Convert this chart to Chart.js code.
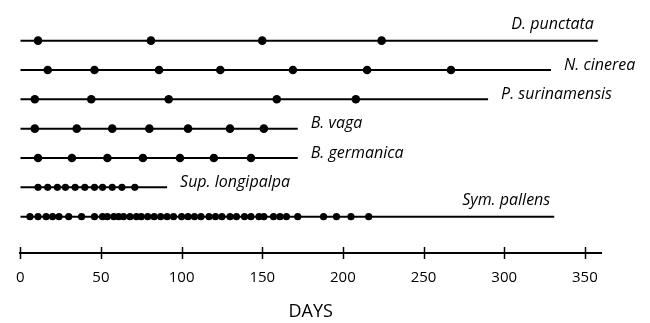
<!DOCTYPE html>
<html>
<head>
<meta charset="utf-8">
<script src="https://cdn.jsdelivr.net/npm/chart.js@4.4.0/dist/chart.umd.min.js"></script>
<style>
  html, body { margin: 0; padding: 0; background: #fff; }
</style>
</head>
<body>
<canvas id="chart" width="650" height="323"></canvas>
<script>
// species, listed from the top row down
var species = ['D. punctata', 'N. cinerea', 'P. surinamensis', 'B. vaga', 'B. germanica', 'Sup. longipalpa', 'Sym. pallens'];

// days on which each species was recorded
var daysPunctata = [11, 81, 150, 224];
var daysCinerea = [17, 46, 86, 124, 169, 215, 267];
var daysSurinamensis = [9, 44, 92, 159, 208];
var daysVaga = [9, 35, 57, 80, 104, 130, 151];
var daysGermanica = [11, 32, 54, 76, 99, 120, 143];
var daysLongipalpa = [11, 17, 23, 28, 34, 40, 46, 51, 57, 63, 71];
var daysPallens = [6, 11, 16, 20, 24, 30, 38, 46, 51, 54, 58, 61, 64, 68, 72, 75, 79, 83, 87, 91,
  95, 100, 104, 108, 112, 117, 121, 125, 130, 134, 139, 143, 148, 151, 157, 161, 165, 172, 188, 196, 205, 216];

var allDays = [daysPunctata, daysCinerea, daysSurinamensis, daysVaga, daysGermanica, daysLongipalpa, daysPallens];

// how far each observation line runs (days)
var lineEnds = [358, 329, 290, 172, 172, 91, 331];

var xTicks = [0, 50, 100, 150, 200, 250, 300, 350];

// names that sit above the end of their line instead of after it
var namesAbove = ['D. punctata', 'Sym. pallens'];

var datasets = [];
species.forEach(function (name, i) {
  var row = species.length - i;
  datasets.push({
    label: name + ' line',
    data: [{ x: 0, y: row }, { x: lineEnds[i], y: row }],
    showLine: true,
    borderColor: '#000',
    borderWidth: 2,
    pointRadius: 0,
    order: 1
  });
  datasets.push({
    label: name,
    data: allDays[i].map(function (d) { return { x: d, y: row }; }),
    showLine: false,
    backgroundColor: '#000',
    borderWidth: 0,
    pointRadius: i >= 5 ? 3.6 : 4.3,
    order: 0
  });
});

// tick marks across the axis line, plus the species names
var axisMarks = {
  id: 'axisMarks',
  afterDraw: function (chart) {
    var ctx = chart.ctx;
    var x = chart.scales.x, y = chart.scales.y;
    var base = chart.chartArea.bottom;
    ctx.save();
    ctx.strokeStyle = '#000';
    ctx.lineWidth = 1.5;
    xTicks.forEach(function (t) {
      var px = Math.round(x.getPixelForValue(t)) + 0.5;
      ctx.beginPath();
      ctx.moveTo(px, base - 6);
      ctx.lineTo(px, base + 6);
      ctx.stroke();
    });

    ctx.fillStyle = '#000';
    ctx.font = 'italic 16px "Open Sans"';
    ctx.textBaseline = 'middle';
    species.forEach(function (name, i) {
      var py = y.getPixelForValue(species.length - i);
      var px = x.getPixelForValue(lineEnds[i]);
      if (namesAbove.indexOf(name) >= 0) {
        ctx.textAlign = 'right';
        ctx.fillText(name, px - 4, py - 16);
      } else {
        ctx.textAlign = 'left';
        ctx.fillText(name, px + 13, py - 5);
      }
    });
    ctx.restore();
  }
};

var ctx = document.getElementById('chart').getContext('2d');
var myChart = new Chart(ctx, {
  type: 'scatter',
  data: { datasets: datasets },
  options: {
    responsive: false,
    animation: false,
    layout: { padding: { top: 26, left: 20, right: 49, bottom: 0 } },
    plugins: {
      legend: { display: false },
      tooltip: { enabled: false }
    },
    scales: {
      x: {
        type: 'linear',
        min: 0,
        max: 360,
        afterBuildTicks: function (scale) {
          scale.ticks = xTicks.map(function (v) { return { value: v }; });
        },
        afterFit: function (scale) { scale.height = 70; },
        grid: { display: true, drawOnChartArea: false, drawTicks: false },
        border: { display: true, color: '#000', width: 2 },
        ticks: {
          padding: 16,
          color: '#000',
          maxRotation: 0,
          font: { family: 'Open Sans', size: 15 }
        },
        title: {
          display: true,
          text: 'DAYS',
          color: '#000',
          padding: { top: 0, bottom: 0 },
          font: { family: 'Open Sans', size: 18 }
        }
      },
      y: {
        type: 'linear',
        display: false,
        min: -0.24,
        max: 7.5
      }
    }
  },
  plugins: [axisMarks]
});
</script>
</body>
</html>
